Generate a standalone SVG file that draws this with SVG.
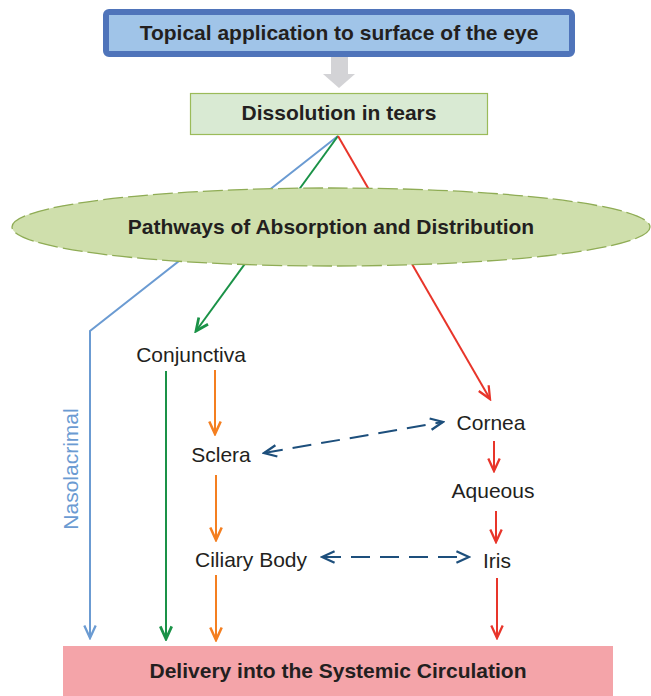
<svg xmlns="http://www.w3.org/2000/svg" width="651" height="696" viewBox="0 0 651 696">
<style>
.b{font-family:"Liberation Sans",Arial,sans-serif;font-weight:bold;fill:#231f20;text-anchor:middle;font-size:21px}
.r{font-family:"Liberation Sans",Arial,sans-serif;font-size:21px;fill:#231f20;text-anchor:middle}
.ln{fill:none;stroke-width:2}
.dash{fill:none;stroke:#1d4f7c;stroke-width:2;stroke-dasharray:19 10}
</style>
<defs>
<marker id="mBlue" markerUnits="userSpaceOnUse" markerWidth="16" markerHeight="16" refX="12" refY="6" orient="auto" viewBox="0 0 14 12"><path d="M1,1 L12,6 L1,11" fill="none" stroke="#6b9bd2" stroke-width="2"/></marker>
<marker id="mGreen" markerUnits="userSpaceOnUse" markerWidth="16" markerHeight="16" refX="12" refY="6" orient="auto" viewBox="0 0 14 12"><path d="M1,1 L12,6 L1,11" fill="none" stroke="#1a9247" stroke-width="2.4"/></marker>
<marker id="mRed" markerUnits="userSpaceOnUse" markerWidth="16" markerHeight="16" refX="12" refY="6" orient="auto" viewBox="0 0 14 12"><path d="M1,1 L12,6 L1,11" fill="none" stroke="#e8352a" stroke-width="2"/></marker>
<marker id="mOrange" markerUnits="userSpaceOnUse" markerWidth="16" markerHeight="16" refX="12" refY="6" orient="auto" viewBox="0 0 14 12"><path d="M1,1 L12,6 L1,11" fill="none" stroke="#f47f20" stroke-width="2.2"/></marker>
<marker id="mDark" markerUnits="userSpaceOnUse" markerWidth="16" markerHeight="16" refX="12" refY="6" orient="auto-start-reverse" viewBox="0 0 14 12"><path d="M1,1 L12,6 L1,11" fill="none" stroke="#1d4f7c" stroke-width="2"/></marker>
</defs>

<g id="connectors">
<path d="M331,48 L348,48 L348,74 L355,74 L339,88 L323,74 L331,74 Z" fill="#d3d3d6"/>
<polyline class="ln" stroke="#6b9bd2" points="338,136 90,331 90,638" marker-end="url(#mBlue)"/>
<line class="ln" stroke="#1a9247" x1="338" y1="136" x2="196" y2="331" marker-end="url(#mGreen)"/>
<line class="ln" stroke="#e8352a" x1="338" y1="136" x2="490" y2="399" marker-end="url(#mRed)"/>
<line class="ln" stroke="#1a9247" x1="166" y1="371" x2="166" y2="639" marker-end="url(#mGreen)"/>
<line class="ln" stroke="#f47f20" x1="215" y1="370" x2="215" y2="434" marker-end="url(#mOrange)"/>
<line class="ln" stroke="#f47f20" x1="216" y1="475" x2="216" y2="540" marker-end="url(#mOrange)"/>
<line class="ln" stroke="#f47f20" x1="216" y1="575" x2="216" y2="640" marker-end="url(#mOrange)"/>
<line class="ln" stroke="#e8352a" x1="494" y1="441" x2="494" y2="471" marker-end="url(#mRed)"/>
<line class="ln" stroke="#e8352a" x1="496" y1="511" x2="496" y2="542" marker-end="url(#mRed)"/>
<line class="ln" stroke="#e8352a" x1="497" y1="578" x2="497" y2="638" marker-end="url(#mRed)"/>
<line class="dash" x1="264" y1="453" x2="443" y2="422" marker-start="url(#mDark)" marker-end="url(#mDark)"/>
<line class="dash" x1="322" y1="557" x2="469" y2="557" marker-start="url(#mDark)" marker-end="url(#mDark)"/>
</g>

<g id="topical">
<rect x="106" y="12" width="466" height="42" rx="3" fill="#a0c4e8" stroke="#4f74ba" stroke-width="6"/>
<text class="b" x="339" y="40">Topical application to surface of the eye</text>
</g>

<g id="dissolution">
<rect x="190.5" y="93.5" width="297" height="41" fill="#d9ead3" stroke="#9bbb59" stroke-width="1.2"/>
<text class="b" x="339" y="120">Dissolution in tears</text>
</g>

<g id="pathways">
<ellipse cx="331" cy="227" rx="319" ry="39" fill="#cfdfac" stroke="#8fac55" stroke-width="1.3" stroke-dasharray="20 5"/>
<text class="b" x="331" y="234">Pathways of Absorption and Distribution</text>
</g>

<g id="nasolacrimal">
<text class="r" x="0" y="0" style="fill:#6b9bd2" transform="translate(78,469) rotate(-90)">Nasolacrimal</text>
</g>

<g id="conjunctiva"><text class="r" x="191" y="362">Conjunctiva</text></g>
<g id="sclera"><text class="r" x="221" y="462">Sclera</text></g>
<g id="ciliary"><text class="r" x="251" y="567">Ciliary Body</text></g>
<g id="cornea"><text class="r" x="491" y="430">Cornea</text></g>
<g id="aqueous"><text class="r" x="493" y="498">Aqueous</text></g>
<g id="iris"><text class="r" x="497" y="568">Iris</text></g>

<g id="delivery">
<rect x="63" y="646" width="550" height="50" fill="#f4a4a9"/>
<text class="b" x="338" y="678">Delivery into the Systemic Circulation</text>
</g>
</svg>
